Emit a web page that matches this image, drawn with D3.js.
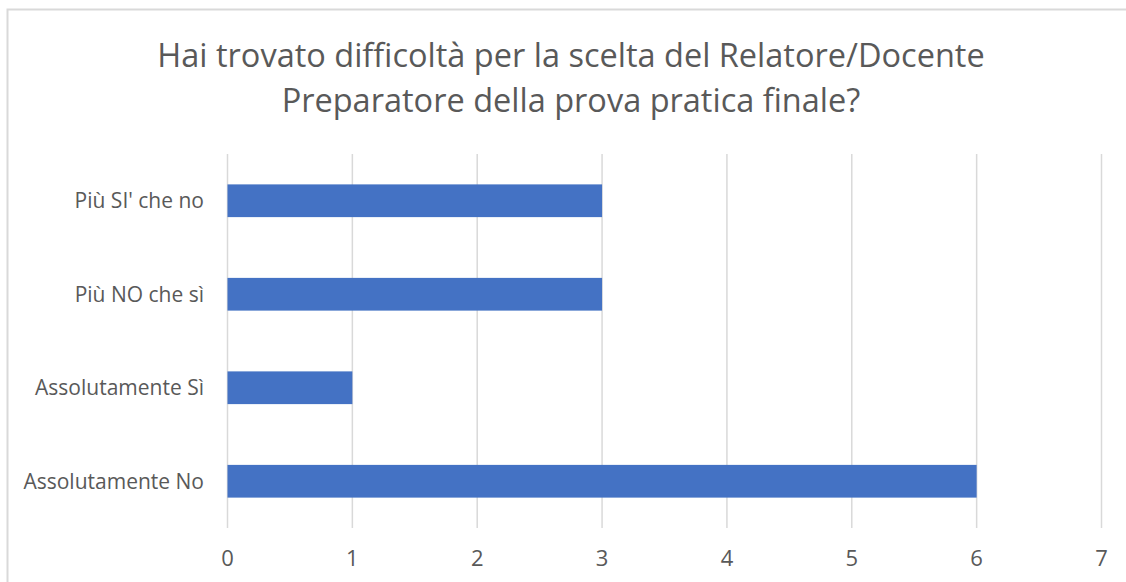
<!DOCTYPE html>
<html lang='it'>
  <head>
    <meta charset='utf-8'>
    <style type='text/css'>
      body {margin: 0; background-color: #fff;}
      #chart {width: 1126px; height: 582px; overflow: hidden;}
      text {font-family: 'Open Sans', 'Noto Sans', sans-serif; fill: #595959;}
    </style>
  </head>
  <body>
    <div id='chart'>
      <svg width='1126' height='582'></svg>
    </div>

    <script src='https://d3js.org/d3.v7.min.js'></script>
    <script type='text/javascript'>
        // data (bottom to top as in the picture)
        var categories = ["Assolutamente No", "Assolutamente Sì", "Più NO che sì", "Più SI' che no"];
        var values = [6, 1, 3, 3];
        var ticks = [0, 1, 2, 3, 4, 5, 6, 7];
        var titleLines = ["Hai trovato difficoltà per la scelta del Relatore/Docente",
                          "Preparatore della prova pratica finale?"];

        var svg = d3.select("svg");

        // chart border (runs past the right and bottom edges)
        svg.append("rect")
            .attr("x", 7.5).attr("y", 9.5)
            .attr("width", 1126).attr("height", 600)
            .style("fill", "none")
            .style("stroke", "#d9d9d9")
            .style("stroke-width", 2);

        // title
        svg.append("g").selectAll("text").data(titleLines)
          .enter().append("text")
            .attr("x", 571)
            .attr("y", function(d, i) { return 67 + i * 45; })
            .style("text-anchor", "middle")
            .style("font-size", "32.5px")
            .text(function(d) { return d; });

        // scales
        var x = d3.scaleLinear().domain([0, 7]).range([227.5, 1101.5]);
        var y = d3.scaleBand().domain(categories.slice().reverse())
            .range([154, 528])
            .paddingInner(0.65)
            .paddingOuter(0.325);

        // gridlines
        svg.append("g").selectAll("line").data(ticks)
          .enter().append("line")
            .attr("x1", function(d) { return x(d); })
            .attr("x2", function(d) { return x(d); })
            .attr("y1", 154)
            .attr("y2", 528)
            .style("stroke", "#d9d9d9")
            .style("stroke-width", 1.5);

        // bars
        svg.append("g").selectAll("rect").data(values)
          .enter().append("rect")
            .attr("x", x(0))
            .attr("y", function(d, i) { return y(categories[i]); })
            .attr("width", function(d) { return x(d) - x(0); })
            .attr("height", y.bandwidth())
            .style("fill", "#4472c4");

        // category labels
        svg.append("g").selectAll("text").data(categories)
          .enter().append("text")
            .attr("x", 204)
            .attr("y", function(d) { return y(d) + y.bandwidth() / 2; })
            .attr("dy", "0.35em")
            .style("text-anchor", "end")
            .style("font-size", "21px")
            .text(function(d) { return d; });

        // tick labels
        svg.append("g").selectAll("text").data(ticks)
          .enter().append("text")
            .attr("x", function(d) { return x(d); })
            .attr("y", 558.5)
            .attr("dy", "0.35em")
            .style("text-anchor", "middle")
            .style("font-size", "22px")
            .text(function(d) { return d; });
    </script>
  </body>
</html>
